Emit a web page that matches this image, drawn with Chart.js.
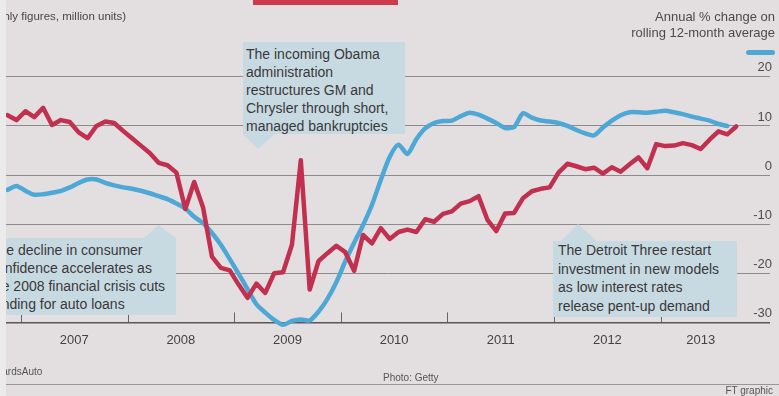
<!DOCTYPE html>
<html>
<head>
<meta charset="utf-8">
<script src="https://cdn.jsdelivr.net/npm/chart.js@4.4.1/dist/chart.umd.min.js"></script>
<style>
  html, body { margin: 0; padding: 0; background: #e3dfe1; }
  #wrap { position: relative; width: 779px; height: 396px; overflow: hidden;
          font-family: "Liberation Sans", Arial, sans-serif; color: #3a3839; background: #e3dfe1; }
  #c { position: absolute; left: 0; top: 0; }
  .abs { position: absolute; white-space: nowrap; }
  .box { position: absolute; background: #c8dae1; font-size: 14px; line-height: 18px; white-space: nowrap; box-sizing: border-box; }
  .tri { position: absolute; background: #c8dae1; }
</style>
</head>
<body>
<div id="wrap">
  <canvas id="c" width="779" height="396"></canvas>

  <div class="abs" style="left:253px;top:0;width:145px;height:5px;background:#cf3a4a;"></div>
  <div class="abs" style="left:-26px;top:9px;font-size:11.5px;line-height:14px;color:#4a4748;">(monthly figures, million units)</div>
  <div class="abs" style="right:4px;top:9px;font-size:13px;line-height:16px;text-align:right;color:#4d4a4b;">Annual % change on<br>rolling 12-month average</div>
  <div class="abs" style="left:746px;top:50px;width:29px;height:5px;border-radius:3px;background:#4da8d6;"></div>

  <div class="box" style="left:243px;top:42px;width:162px;height:92px;padding:3px 0 0 3px;">The incoming Obama<br>administration<br>restructures GM and<br>Chrysler through short,<br>managed bankruptcies</div>
  <div class="tri" style="left:243px;top:134px;width:32px;height:15px;clip-path:polygon(0 0,100% 0,47% 100%);"></div>

  <div class="box" style="left:-30px;top:238px;width:206px;height:77px;padding:3px 0 0 20px;">The decline in consumer<br>confidence accelerates as<br>the 2008 financial crisis cuts<br>funding for auto loans</div>
  <div class="tri" style="left:144px;top:225px;width:32px;height:13px;clip-path:polygon(0 100%,100% 100%,45% 0);"></div>

  <div class="box" style="left:553px;top:241px;width:184px;height:76px;padding:0 0 0 5px;line-height:18.5px;">The Detroit Three restart<br>investment in new models<br>as low interest rates<br>release pent-up demand</div>
  <div class="tri" style="left:561px;top:224px;width:36px;height:17px;clip-path:polygon(0 100%,100% 100%,47% 0);"></div>

  <div class="abs" style="left:-44px;top:366px;font-size:10px;line-height:12px;color:#555;">Source: WardsAuto</div>
  <div class="abs" style="left:0;top:384px;width:779px;height:1px;background:#9a9698;"></div>
  <div class="abs" style="left:383px;top:372px;font-size:10px;line-height:12px;color:#555;">Photo: Getty</div>
  <div class="abs" style="right:6px;top:385px;font-size:10px;line-height:12px;color:#555;">FT graphic</div>

  <div class="abs" style="left:0;top:0;width:6px;height:396px;background:#ecebeb;"></div>
</div>

<script>
// ---------------- data ----------------
const firstMonth = [2006, 11];   // first category (year, month)

// US light vehicle sales, seasonally adjusted annual rate, million units (red, left axis)
const salesMillions = [
  16.44, 16.24,
  16.60, 16.36, 16.74, 16.04, 16.24, 16.16, 15.74, 15.50, 16.00, 16.18, 16.12, 15.80,
  15.50, 15.20, 14.90, 14.50, 14.40, 14.10, 12.62, 13.72, 12.68, 10.68, 10.22, 10.12,
  9.54, 9.00, 9.58, 9.20, 10.00, 10.04, 11.16, 14.60, 9.34, 10.50, 10.82, 11.12,
  10.86, 10.10, 11.56, 11.22, 11.84, 11.40, 11.68, 11.78, 11.68, 12.20, 12.10, 12.42,
  12.52, 12.84, 12.94, 13.14, 12.18, 11.72, 12.44, 12.46, 13.06, 13.34, 13.44, 13.50,
  14.10, 14.46, 14.36, 14.24, 14.30, 14.06, 14.32, 14.14, 14.44, 14.72, 14.28, 15.26,
  15.18, 15.20, 15.30, 15.22, 15.06, 15.44, 15.78, 15.66, 15.98
];

// Annual % change on rolling 12-month average (blue, right axis)
const annualChange = [
  -3.0, -2.2,
  -3.2, -4.0, -3.9, -3.6, -3.2, -2.5, -1.6, -0.9, -0.9, -1.6, -2.1, -2.5,
  -2.8, -3.2, -3.7, -4.3, -4.9, -5.8, -6.8, -8.5, -9.8, -11.8, -14.2, -17.1,
  -20.1, -23.2, -26.3, -28.0, -29.5, -30.5, -29.7, -29.4, -29.6, -27.8, -25.2, -21.8,
  -17.6, -13.8, -10.2, -6.1, -1.0, 3.7, 6.2, 4.3, 7.3, 9.5, 10.6, 11.0,
  11.1, 12.0, 12.7, 12.3, 11.5, 10.6, 9.6, 9.8, 12.6, 11.7, 11.1, 10.9,
  10.6, 10.0, 9.2, 8.5, 8.1, 9.7, 11.1, 12.2, 12.8, 12.8, 12.7, 12.9,
  13.1, 12.8, 12.4, 11.9, 11.5, 11.1, 10.4, 10.0, null
];

const yearLabels = ['2007', '2008', '2009', '2010', '2011', '2012', '2013'];
const pctTicks = [-30, -20, -10, 0, 10, 20];
// left (hidden) axis: million units = unitsAtZero + pct * unitsPerPct  (8 at -30 ... 18 at +20)
const unitsAtZero = 14, unitsPerPct = 0.2;

// ---------------- derived ----------------
const months = salesMillions.map((_, i) => {
  const t = firstMonth[0] * 12 + (firstMonth[1] - 1) + i;
  return Math.floor(t / 12) + '-' + String(t % 12 + 1).padStart(2, '0');
});
const baseYear = +yearLabels[0];
const monthIdx = m => (+m.slice(0, 4) - baseYear) * 12 + (+m.slice(5, 7) - 1);
const firstIdx = monthIdx(months[0]);
const lastIdx = monthIdx(months[months.length - 1]);
const yearBounds = yearLabels.map(y => (+y - baseYear) * 12 - 0.5);
const yearCentres = yearLabels.map(y => {
  const s = Math.max((+y - baseYear) * 12 - 0.5, firstIdx - 0.5);
  const e = Math.min((+y - baseYear) * 12 + 11.5, lastIdx + 0.5);
  return (s + e) / 2;
});

const yMin = -30, yMax = 27.1;
const xMin = -2.29, xMax = 83.8;

const FONT = "'Liberation Sans', Arial, sans-serif";
Chart.defaults.font.family = FONT;

const yearTickMarks = {
  id: 'yearTickMarks',
  beforeDatasetsDraw(chart) {
    const { ctx, chartArea, scales } = chart;
    ctx.save();
    ctx.strokeStyle = '#686466';
    ctx.lineWidth = 1;
    yearBounds.forEach(b => {
      const px = Math.round(scales.x.getPixelForValue(b)) + 0.5;
      ctx.beginPath();
      ctx.moveTo(px, chartArea.bottom);
      ctx.lineTo(px, chartArea.bottom - 10);
      ctx.stroke();
    });
    ctx.restore();
  }
};

new Chart(document.getElementById('c'), {
  type: 'line',
  data: {
    datasets: [
      {
        label: 'Sales (million units)',
        data: months.map((m, i) => ({ x: monthIdx(m), y: salesMillions[i] })),
        yAxisID: 'yL',
        borderColor: '#c2304f',
        borderWidth: 4.5,
        pointRadius: 0,
        tension: 0,
        borderJoinStyle: 'round',
        borderCapStyle: 'round',
        clip: 8
      },
      {
        label: 'Annual % change on rolling 12-month average',
        data: months.map((m, i) => ({ x: monthIdx(m), y: annualChange[i] })),
        yAxisID: 'y',
        borderColor: '#4da8d6',
        borderWidth: 4.5,
        pointRadius: 0,
        tension: 0.25,
        borderJoinStyle: 'round',
        borderCapStyle: 'round',
        spanGaps: false,
        clip: 8
      }
    ]
  },
  options: {
    responsive: false,
    animation: false,
    devicePixelRatio: 1,
    layout: { padding: { left: 5, right: 5, top: 42, bottom: 38 } },
    plugins: { legend: { display: false }, tooltip: { enabled: false } },
    scales: {
      x: {
        type: 'linear',
        min: xMin, max: xMax,
        grid: { display: false, drawTicks: false },
        border: { display: false },
        afterBuildTicks: s => { s.ticks = yearCentres.map(v => ({ value: v })); },
        ticks: {
          autoSkip: false, maxRotation: 0, padding: 10,
          color: '#454243', font: { size: 13, family: FONT },
          callback: (v, i) => yearLabels[i]
        }
      },
      y: {
        position: 'right',
        min: yMin, max: yMax,
        afterBuildTicks: s => { s.ticks = pctTicks.map(v => ({ value: v })); },
        grid: {
          drawTicks: false,
          color: c => c.tick && c.tick.value === yMin ? '#5a5658' : '#8e8a8c',
          lineWidth: c => c.tick && c.tick.value === yMin ? 1.6 : 1
        },
        border: { display: false },
        ticks: {
          mirror: true, padding: 2, labelOffset: -9,
          color: '#4f4c4d', font: { size: 13, family: FONT },
          callback: v => String(v)
        }
      },
      yL: {
        position: 'left',
        display: false,
        min: unitsAtZero + yMin * unitsPerPct,
        max: unitsAtZero + yMax * unitsPerPct
      }
    }
  },
  plugins: [yearTickMarks]
});
</script>
</body>
</html>
